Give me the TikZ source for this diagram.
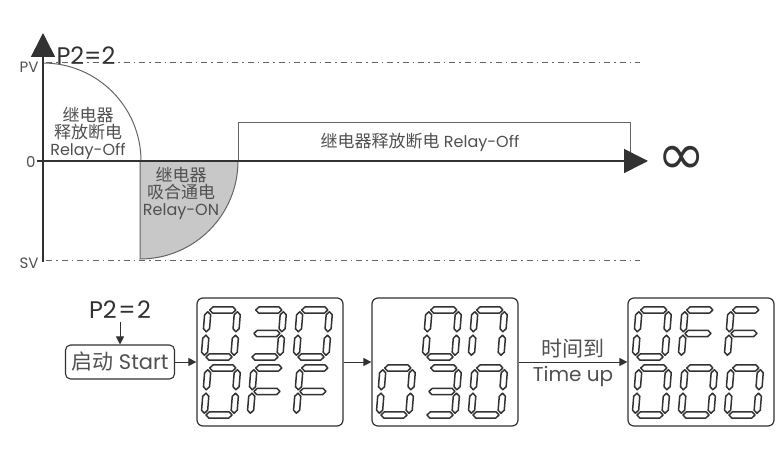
\documentclass[tikz,border=0pt]{standalone}
\usepackage{fontspec}
\setmainfont{Poppins}
\newfontfamily\cjk{Noto Sans CJK SC}
\newfontfamily\symfont{DejaVu Sans}
\usepackage{tikz}
\usetikzlibrary{arrows.meta,positioning,calc}
\definecolor{axisgray}{RGB}{50,50,50}
\definecolor{linegray}{RGB}{100,100,100}
\definecolor{textgray}{RGB}{80,80,80}
\definecolor{shadegray}{RGB}{200,200,200}

% LCD segments, local units, y pointing down
\newcommand\hseg[1]{\draw[lcdseg] (2,#1) -- ++(3.5,-3.5) -- ++(23,0) -- ++(3.5,3.5) -- ++(-3.5,3.5) -- ++(-23,0) -- cycle;}
\newcommand\vseg[2]{\draw[lcdseg] (#1,#2) -- ++(3.5,3.5) -- ++(0,16) -- ++(-3.5,3.5) -- ++(-3.5,-3.5) -- ++(0,-16) -- cycle;}
\newcommand\lcda{\hseg{0}}
\newcommand\lcdb{\vseg{34}{2}}
\newcommand\lcdc{\vseg{34}{29}}
\newcommand\lcdd{\hseg{54}}
\newcommand\lcde{\vseg{0}{29}}
\newcommand\lcdf{\vseg{0}{2}}
\newcommand\lcdg{\hseg{27}}
\newcommand\lcddigit[3]{%
  \begin{scope}[shift={(#1,#2)},scale=0.87,xslant=0.08]
    \foreach \s in {#3}{\csname lcd\s\endcsname}
  \end{scope}}

\begin{document}
\begin{tikzpicture}[
  x=1pt, y=-1pt,
  axis/.style={draw=axisgray, line width=1.6pt, -{Triangle[length=24pt,width=24pt]}},
  curve/.style={draw=linegray, line width=1pt},
  level/.style={draw=linegray, line width=1pt, dash pattern=on 6pt off 4pt on 1.5pt off 4pt},
  axislabel/.style={text=textgray, font=\fontsize{15}{15}\selectfont},
  relay/.style={text=textgray, align=center, font=\fontsize{16}{17}\selectfont},
  title/.style={text=axisgray, font=\fontsize{24}{24}\selectfont},
  lcdbox/.style={draw=axisgray, line width=1.2pt, rounded corners=6pt, minimum width=146pt, minimum height=128pt},
  lcdseg/.style={draw=axisgray, fill=white, line width=1.5pt, line join=round},
  startbox/.style={draw=axisgray, line width=1.1pt, rounded corners=5pt, minimum width=109pt, minimum height=34pt, inner sep=2pt, text=textgray, font=\fontsize{21}{21}\selectfont},
  flow/.style={draw=axisgray, line width=1pt, -{Triangle[length=8pt,width=8pt]}},
  steplabel/.style={text=textgray, font=\fontsize{20}{20}\selectfont}
]
\useasboundingbox[fill=white] (0,0) rectangle (779,473);

% curve
\coordinate (O) at (43,161);
\draw[level] (46,63) -- (640,63);
\draw[level] (46,260) -- (640,260);
\fill[shadegray] (140,161) -- (140,259) arc[start angle=90, end angle=0, radius=98] -- cycle;
\draw[curve] (140,161) -- (140,259) arc[start angle=90, end angle=0, radius=98];
\draw[curve] (43,63) arc[start angle=-90, end angle=0, radius=98];
\draw[curve] (238,161) -- (238,123) -- (630,123) -- (630,161);
\draw[axis] (43,262) -- (43,33);
\draw[axis] (37,161) -- (648,161);

\node[axislabel, left] at (42,67) {PV};
\node[axislabel, left] at (39,162) {0};
\node[axislabel, left] at (42,263) {SV};
\node[title, anchor=west] at (53,56) {P2=2};
\node[axisgray, font=\symfont\fontsize{58}{58}\selectfont] at (682,160) {∞};

\node[relay] at (88,133) {{\cjk\fontsize{17}{17}\selectfont 继电器}\\{\cjk\fontsize{17}{17}\selectfont 释放断电}\\Relay-Off};
\node[relay] at (181,193) {{\cjk\fontsize{17}{17}\selectfont 继电器}\\{\cjk\fontsize{17}{17}\selectfont 吸合通电}\\Relay-ON};
\node[relay] at (420,142) {{\cjk\fontsize{17}{17}\selectfont 继电器释放断电} Relay-Off};

% sequence
\node[title] (p2) at (120,310) {P2\hspace{1.5pt}=\hspace{1.5pt}2};
\node[startbox] (start) at (120,362) {{\cjk 启动} Start};
\node[lcdbox] (disp1) at (270,362) {};
\node[lcdbox] (disp2) at (445,362) {};
\node[lcdbox] (disp3) at (701,362) {};

\draw[flow] (p2) -- (start);
\draw[flow] (start) -- (disp1);
\draw[flow] (disp1) -- (disp2);
\draw[flow] (disp2) -- node[steplabel, above, font=\cjk\fontsize{21}{21}\selectfont] {时间到} node[steplabel, below] {Time up} (disp3);

% digits: 030 / OFF
\lcddigit{208}{310}{a,b,c,d,e,f}
\lcddigit{254}{310}{a,b,c,d,g}
\lcddigit{300}{310}{a,b,c,d,e,f}
\lcddigit{208}{368}{a,b,c,d,e,f}
\lcddigit{254}{368}{a,e,f,g}
\lcddigit{300}{368}{a,e,f,g}
% digits: ON / 030
\lcddigit{429}{310}{a,b,c,d,e,f}
\lcddigit{475}{310}{a,b,c,e,f}
\lcddigit{383}{368}{a,b,c,d,e,f}
\lcddigit{429}{368}{a,b,c,d,g}
\lcddigit{475}{368}{a,b,c,d,e,f}
% digits: OFF / 000
\lcddigit{639}{310}{a,b,c,d,e,f}
\lcddigit{685}{310}{a,e,f,g}
\lcddigit{731}{310}{a,e,f,g}
\lcddigit{639}{368}{a,b,c,d,e,f}
\lcddigit{685}{368}{a,b,c,d,e,f}
\lcddigit{731}{368}{a,b,c,d,e,f}
\end{tikzpicture}
\end{document}
